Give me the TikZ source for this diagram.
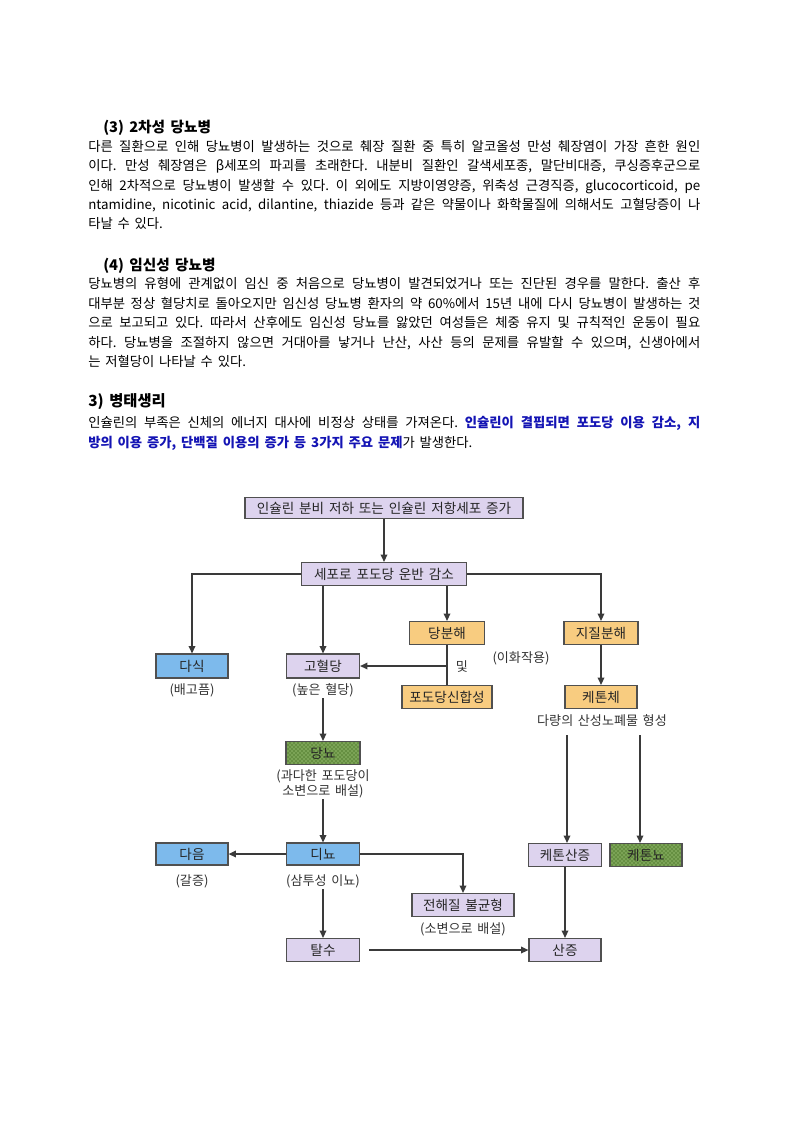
\documentclass[tikz,border=0pt]{standalone}
\usepackage{fontspec}
\setmainfont{Noto Sans CJK KR}[WordSpace=1.6]
\usetikzlibrary{arrows.meta,patterns}
\definecolor{lav}{HTML}{DDD3EE}
\definecolor{bluebox}{HTML}{7DBAEC}
\definecolor{orng}{HTML}{F8CC80}
\definecolor{grn}{HTML}{668F42}
\definecolor{grndot}{HTML}{C4E89A}
\definecolor{lin}{HTML}{3A3A3A}
\definecolor{bord}{HTML}{505050}
\definecolor{blutxt}{HTML}{1414B4}
\frenchspacing
\begin{document}
\begin{tikzpicture}[x=0.75pt,y=-0.75pt,
  body/.style={anchor=base west,inner sep=0pt,font=\fontsize{10}{12}\selectfont},
  head/.style={anchor=base west,inner sep=0pt,font=\fontsize{11}{13}\selectfont\bfseries},
  box/.style={draw=bord,line width=0.9pt,inner sep=0pt,minimum height=17.25pt,
    font=\fontsize{10.2}{12}\selectfont,text=black!85},
  lavbox/.style={box,fill=lav},
  bluebx/.style={box,fill=bluebox},
  orbox/.style={box,fill=orng},
  grbox/.style={box,preaction={fill=grn},pattern=crosshatch dots,pattern color=grndot},
  lbl/.style={inner sep=1pt,font=\fontsize{9.8}{11.5}\selectfont,text=black!80},
  conn/.style={draw=lin,line width=1.1pt},
  arr/.style={conn,-{Triangle[length=5.5pt,width=5pt]}}]
\useasboundingbox (0,0) rectangle (794,1123);
% ---- text ----
\node[head] (h3) at (103,133) {(3) 2차성 당뇨병};
\node[body] (p1a) at (88,151.5) {\hbox to 459pt{다른 질환으로 인해 당뇨병이 발생하는 것으로 췌장 질환 중 특히 알코올성 만성 췌장염이 가장 흔한 원인}};
\node[body] (p1b) at (88,170.5) {\hbox to 459pt{이다. 만성 췌장염은 β세포의 파괴를 초래한다. 내분비 질환인 갈색세포종, 말단비대증, 쿠싱증후군으로}};
\node[body] (p1c) at (88,190.5) {\hbox to 459pt{인해 2차적으로 당뇨병이 발생할 수 있다. 이 외에도 지방이영양증, 위축성 근경직증, glucocorticoid, pe}};
\node[body] (p1d) at (88,209.5) {\hbox to 459pt{ntamidine, nicotinic acid, dilantine, thiazide 등과 같은 약물이나 화학물질에 의해서도 고혈당증이 나}};
\node[body] (p1e) at (88,228.5) {타날 수 있다.};
\node[head] (h4) at (103,270) {(4) 임신성 당뇨병};
\node[body] (p2a) at (88,288.5) {\hbox to 459pt{당뇨병의 유형에 관계없이 임신 중 처음으로 당뇨병이 발견되었거나 또는 진단된 경우를 말한다. 출산 후}};
\node[body] (p2b) at (88,308.5) {\hbox to 459pt{대부분 정상 혈당치로 돌아오지만 임신성 당뇨병 환자의 약 60\%에서 15년 내에 다시 당뇨병이 발생하는 것}};
\node[body] (p2c) at (88,327.5) {\hbox to 459pt{으로 보고되고 있다. 따라서 산후에도 임신성 당뇨를 앓았던 여성들은 체중 유지 및 규칙적인 운동이 필요}};
\node[body] (p2d) at (88,347.5) {\hbox to 459pt{하다. 당뇨병을 조절하지 않으면 거대아를 낳거나 난산, 사산 등의 문제를 유발할 수 있으며, 신생아에서}};
\node[body] (p2e) at (88,366.5) {는 저혈당이 나타날 수 있다.};
\node[head,font=\fontsize{11.5}{13}\selectfont\bfseries] (h5) at (88,406.5) {3) 병태생리};
\node[body] (p3a) at (88,427.5) {\hbox to 459pt{인슐린의 부족은 신체의 에너지 대사에 비정상 상태를 가져온다. {\bfseries\color{blutxt}인슐린이 결핍되면 포도당 이용 감소, 지}}};
\node[body] (p3b) at (88,447.5) {{\bfseries\color{blutxt}방의 이용 증가, 단백질 이용의 증가 등 3가지 주요 문제}가 발생한다.};
% ---- diagram ----
\node[lavbox,minimum width=208.5pt,minimum height=15.75pt] (top) at (384,508) {인슐린 분비 저하 또는 인슐린 저항세포 증가};
\node[lavbox,minimum width=123.75pt] (cell) at (384,574) {세포로 포도당 운반 감소};
\node[orbox,minimum width=56.25pt] (dangb) at (447,633) {당분해};
\node[orbox,minimum width=55.5pt] (jijil) at (601,633) {지질분해};
\node[lbl] (ihwa) at (521,658) {(이화작용)};
\node[bluebx,minimum width=54pt,minimum height=18pt] (dasik) at (192,666) {다식};
\node[lbl] (dasiklab) at (192,690) {(배고픔)};
\node[lavbox,minimum width=54.75pt,minimum height=18pt] (gohy) at (323,666) {고혈당};
\node[lbl] (gohylab) at (323,690) {(높은 혈당)};
\node[lbl] (mit) at (462,667) {및};
\node[orbox,minimum width=67.5pt] (podo) at (447,697) {포도당신합성};
\node[orbox,minimum width=54pt] (keton) at (601,697) {케톤체};
\node[lbl] (noye) at (602,721) {다량의 산성노폐물 형성};
\node[grbox,minimum width=55.5pt] (dangnyo) at (323,753) {당뇨};
\node[lbl,align=center,font=\fontsize{9.8}{11.4}\selectfont] (dnlab) at (323,783.5) {(과다한 포도당이\\소변으로 배설)};
\node[bluebx,minimum width=54.75pt,minimum height=16.5pt] (dinyo) at (323,854) {디뇨};
\node[lbl] (dinlab) at (323,881) {(삼투성 이뇨)};
\node[bluebx,minimum width=54pt,minimum height=16.5pt] (daeum) at (192,854) {다음};
\node[lbl] (daeumlab) at (192,881) {(갈증)};
\node[lavbox,minimum width=76.5pt] (jeonhae) at (463,905) {전해질 불균형};
\node[lbl] (jeonlab) at (463,929) {(소변으로 배설)};
\node[lavbox,minimum width=54.75pt] (talsu) at (323,950) {탈수};
\node[lavbox,minimum width=54pt] (sanj) at (565,950) {산증};
\node[lavbox,minimum width=54.75pt] (kacid) at (565,855) {케톤산증};
\node[grbox,minimum width=54pt] (kanyo) at (646,855) {케톤뇨};
\coordinate (ka1) at (567,735);
\coordinate (ka2) at (640,735);
% connectors
\draw[arr] (top) -- (cell);
\draw[arr] (cell.west) -| (dasik.north);
\draw[arr] (gohy.north |- cell.south) -- (gohy.north);
\draw[arr] (dangb.north |- cell.south) -- (dangb.north);
\draw[arr] (cell.east) -| (jijil.north);
\draw[conn] (dangb.south) -- (podo.north);
\draw[arr] (dangb.south |- gohy.east) -- (gohy.east);
\draw[arr] (jijil) -- (keton);
\draw[arr] (gohylab.south) -- (dangnyo.north);
\draw[arr] (dnlab.south) -- (dinyo.north);
\draw[arr] (dinyo.west) -- (daeum.east);
\draw[arr] (dinyo.east) -| (jeonhae.north);
\draw[arr] (dinlab.south) -- (talsu.north);
\draw[arr,shorten <=6.75pt] (talsu.east) -- (sanj.west);
\draw[arr] (kacid.south) -- (sanj.north);
\draw[arr] (ka1) -- (ka1 |- kacid.north);
\draw[arr] (ka2) -- (ka2 |- kanyo.north);
\end{tikzpicture}
\end{document}
